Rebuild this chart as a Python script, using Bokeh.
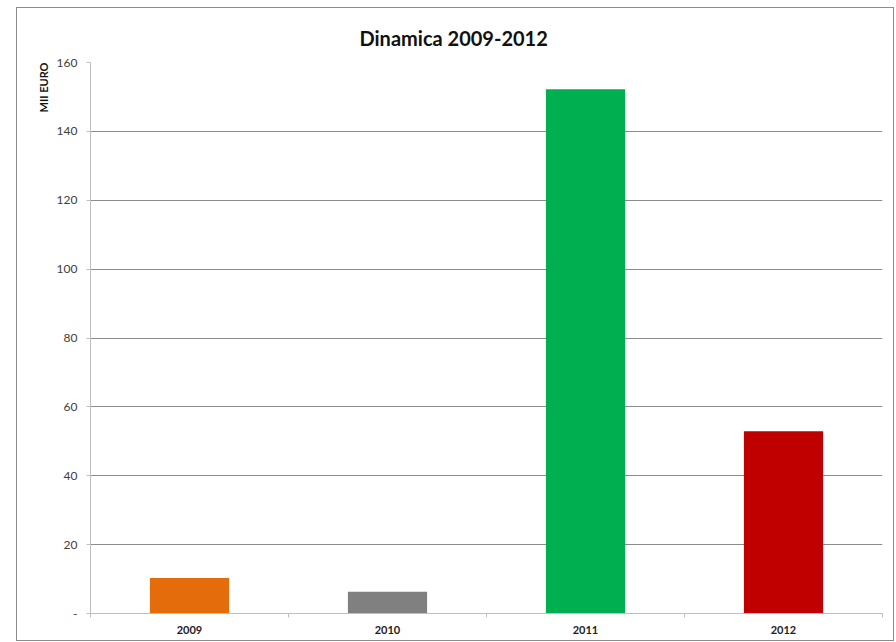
from bokeh.plotting import figure
from bokeh.models import Range1d, FixedTicker, Title, ColumnDataSource
from bokeh.embed import file_html
from bokeh.resources import INLINE

years = ["2009", "2010", "2011", "2012"]
values = [10.3, 6.3, 152.2, 52.9]
colors = ["#E46C0A", "#808080", "#00B050", "#C00000"]
y_ticks = [0, 20, 40, 60, 80, 100, 120, 140, 160]
y_tick_labels = ["-", "20", "40", "60", "80", "100", "120", "140", "160"]
title_text = "Dinamica 2009-2012"
y_label = "MII EURO"

FONT = "Lato"
W, H = 878, 634

# category slots: each year occupies one unit, bar centred in its slot
centers = [i + 0.5 for i in range(len(years))]
src = ColumnDataSource(dict(x=centers, year=years, value=values, color=colors))

p = figure(x_range=Range1d(0, len(years)), y_range=Range1d(0, 160), width=W, height=H,
           output_backend="svg", toolbar_location=None,
           min_border_left=73, min_border_right=13, min_border_top=54,
           min_border_bottom=29)
p.margin = (7, 0, 0, 16)
p.styles = {"border": "1px solid #8c8c8c"}
p.outline_line_color = None
p.background_fill_color = "white"
p.border_fill_color = "white"

p.vbar(x="x", top="value", width=0.4, fill_color="color", line_color=None, source=src)

# y axis
ya = p.yaxis[0]
ya.ticker = FixedTicker(ticks=y_ticks)
ya.major_label_overrides = {t: l for t, l in zip(y_ticks, y_tick_labels)}
ya.axis_line_color = "#bfbfbf"
ya.major_tick_line_color = "#bfbfbf"
ya.major_tick_out = 4
ya.major_tick_in = 0
ya.minor_tick_line_color = None
ya.major_label_text_font = FONT
ya.major_label_text_font_size = "12px"
ya.major_label_text_color = "#404040"
ya.major_label_standoff = 9

p.ygrid.ticker = FixedTicker(ticks=y_ticks)
p.ygrid.grid_line_color = "#8c8c8c"
p.xgrid.visible = False

# x axis: labels at slot centres, tick marks between categories
xa = p.xaxis[0]
xa.ticker = FixedTicker(ticks=centers, minor_ticks=list(range(len(years) + 1)))
xa.major_label_overrides = {c: y for c, y in zip(centers, years)}
xa.axis_line_color = "#bfbfbf"
xa.major_tick_line_color = None
xa.minor_tick_line_color = "#bfbfbf"
xa.minor_tick_out = 4
xa.minor_tick_in = 0
xa.major_label_text_font = FONT
xa.major_label_text_font_style = "bold"
xa.major_label_text_font_size = "11px"
xa.major_label_text_color = "#222222"
xa.major_label_standoff = 6

# chart title (above) and the value-axis caption (left, at the top end)
p.title = Title(text=title_text, align="left", offset=269, text_font=FONT,
                text_font_style="bold", text_font_size="20px", text_color="#111111",
                standoff=26)
p.add_layout(Title(text=y_label, align="right", text_font=FONT, text_font_style="bold",
                   text_font_size="11px", text_color="#111111", standoff=8), "left")

open("out.html", "w").write(file_html(p, INLINE))
